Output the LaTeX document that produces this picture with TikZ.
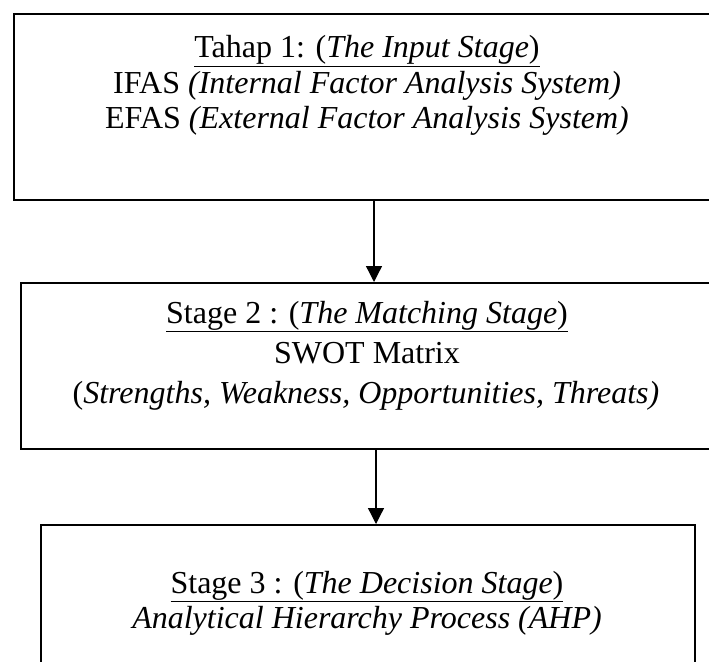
\documentclass[tikz,border=0pt]{standalone}
\usepackage{fontspec}
\setmainfont{Liberation Serif}
\usetikzlibrary{arrows.meta}

\tikzset{
  stage/.style={draw, line width=1.6pt, inner sep=0pt, anchor=north west},
  txt/.style={anchor=base, inner sep=0pt, font=\fontsize{32}{36}\selectfont},
  arr/.style={-{Triangle[length=16pt,width=16pt]}, line width=1.3pt}
}

\begin{document}
\begin{tikzpicture}[x=1pt,y=-1pt]
        \useasboundingbox (0,0) rectangle (709,661);
        \clip (0,0) rectangle (709,661);

        %stage boxes
        \node[stage, minimum width=722pt, minimum height=186pt] (box1) at (13,13) {};
        \node[stage, minimum width=711pt, minimum height=166pt] (box2) at (20,282) {};
        \node[stage, minimum width=654pt, minimum height=180pt] (box3) at (40,524) {};

        %stage 1
        \node[txt] (tahap) at (367,58) {\underline{Tahap 1: (\textit{The Input Stage})}};
        \node[txt] (ifas) at (367,93) {IFAS \textit{(Internal Factor Analysis System)}};
        \node[txt] (efas) at (367,128) {EFAS \textit{(External Factor Analysis System)}};

        %stage 2
        \node[txt] (matching) at (367,323) {\underline{Stage 2 : (\textit{The Matching Stage})}};
        \node[txt] (swot) at (367,363) {SWOT Matrix};
        \node[txt] (swotlong) at (366,403) {(\textit{Strengths, Weakness, Opportunities, Threats)}};

        %stage 3
        \node[txt] (decision) at (367,593) {\underline{Stage 3 : (\textit{The Decision Stage})}};
        \node[txt] (ahp) at (367,628) {\textit{Analytical Hierarchy Process (AHP)}};

        %connecting arrows
        \coordinate (a1) at (374,0);
        \coordinate (a2) at (376,0);
        \draw[arr] (box1.south -| a1) -- (box2.north -| a1);
        \draw[arr] (box2.south -| a2) -- (box3.north -| a2);
    \end{tikzpicture}
\end{document}
